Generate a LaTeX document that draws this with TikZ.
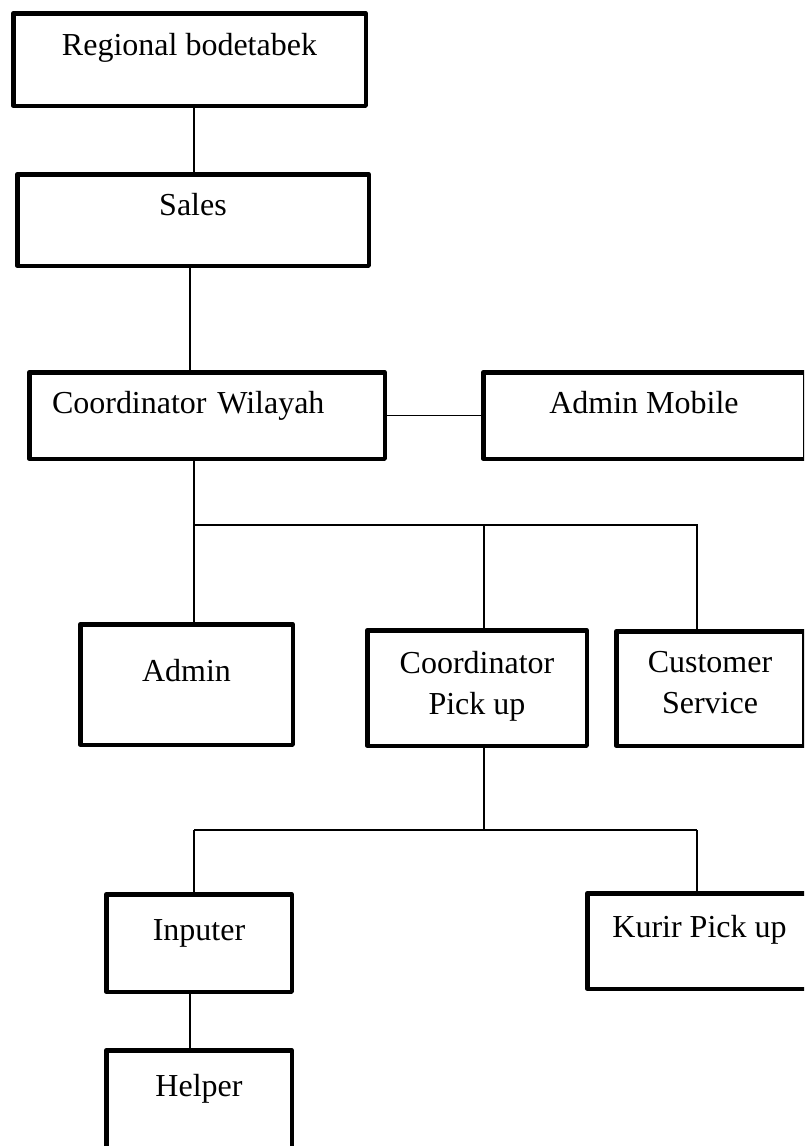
\documentclass[tikz,border=0pt]{standalone}
\usepackage{fontspec}
\setmainfont{Liberation Serif}
\begin{document}
\begin{tikzpicture}[x=1pt,y=-1pt,
  orgbox/.style={draw, line width=4.5pt, line join=round, fill=white,
    inner sep=0pt, outer sep=0pt, anchor=north west,
    font=\fontsize{32}{41}\selectfont},
  link/.style={draw, line width=1.6pt}]
\useasboundingbox (0,0) rectangle (804,1146);
\clip (0,0) rectangle (804,1146);

\node[orgbox, minimum width=352.5pt, text height=41.75pt, text depth=50.75pt] (reg) at (13.25,13.25) {Regional bodetabek};
\node[orgbox, minimum width=351.5pt, text height=40.75pt, text depth=50.75pt] (sales) at (17.25,174.25) {Sales};
\node[orgbox, text width=310pt, inner xsep=22.75pt, align=left, text height=40.75pt, text depth=45.75pt] (cw) at (29.25,372.25) {Coordinator Wilayah};
\node[orgbox, minimum width=321.5pt, text height=40.75pt, text depth=45.75pt] (am) at (483.25,372.25) {Admin Mobile};
\node[orgbox, minimum width=212.5pt, text height=56.75pt, text depth=63.75pt] (ad) at (80.25,624.25) {Admin};
\node[orgbox, minimum width=219.5pt, text height=42.75pt, text depth=72.75pt] (cp) at (367.25,630.25) {\begin{tabular}[t]{@{}c@{}}Coordinator\\Pick up\end{tabular}};
\node[orgbox, minimum width=187.5pt, text height=40.75pt, text depth=73.75pt] (cs) at (616.25,631.25) {\begin{tabular}[t]{@{}c@{}}Customer\\Service\end{tabular}};
\node[orgbox, minimum width=185.5pt, text height=45.75pt, text depth=51.75pt] (inp) at (106.25,894.25) {Inputer};
\node[orgbox, minimum width=224.5pt, text height=43.75pt, text depth=51.75pt] (kur) at (587.25,893.25) {Kurir Pick up};
\node[orgbox, minimum width=185.5pt, text height=45.75pt, text depth=64pt] (hel) at (106.25,1050.25) {Helper};

\draw[link] ([xshift=4.5pt]reg.south) -- ([xshift=4.5pt]reg.south |- sales.north);
\draw[link] ([xshift=-3pt]sales.south) -- ([xshift=-3pt]sales.south |- cw.north);
\draw[link] (cw.east) -- (am.west);

\coordinate (j1) at (194,525);
\coordinate (j1m) at (484,525);
\coordinate (j1r) at (697,525);
\draw[link] (cw.south -| j1) -- (j1) -- (j1r) -- (j1r |- cs.north);
\draw[link] (j1) -- (j1 |- ad.north);
\draw[link] (j1m) -- (j1m |- cp.north);

\coordinate (j2) at (194,830);
\coordinate (j2m) at (484,830);
\coordinate (j2r) at (697,830);
\draw[link] (cp.south -| j2m) -- (j2m);
\draw[link] (j2) -- (j2r);
\draw[link] (j2) -- (j2 |- inp.north);
\draw[link] (j2r) -- (j2r |- kur.north);
\draw[link] ([xshift=-9pt]inp.south) -- ([xshift=-9pt]inp.south |- hel.north);
\end{tikzpicture}
\end{document}
